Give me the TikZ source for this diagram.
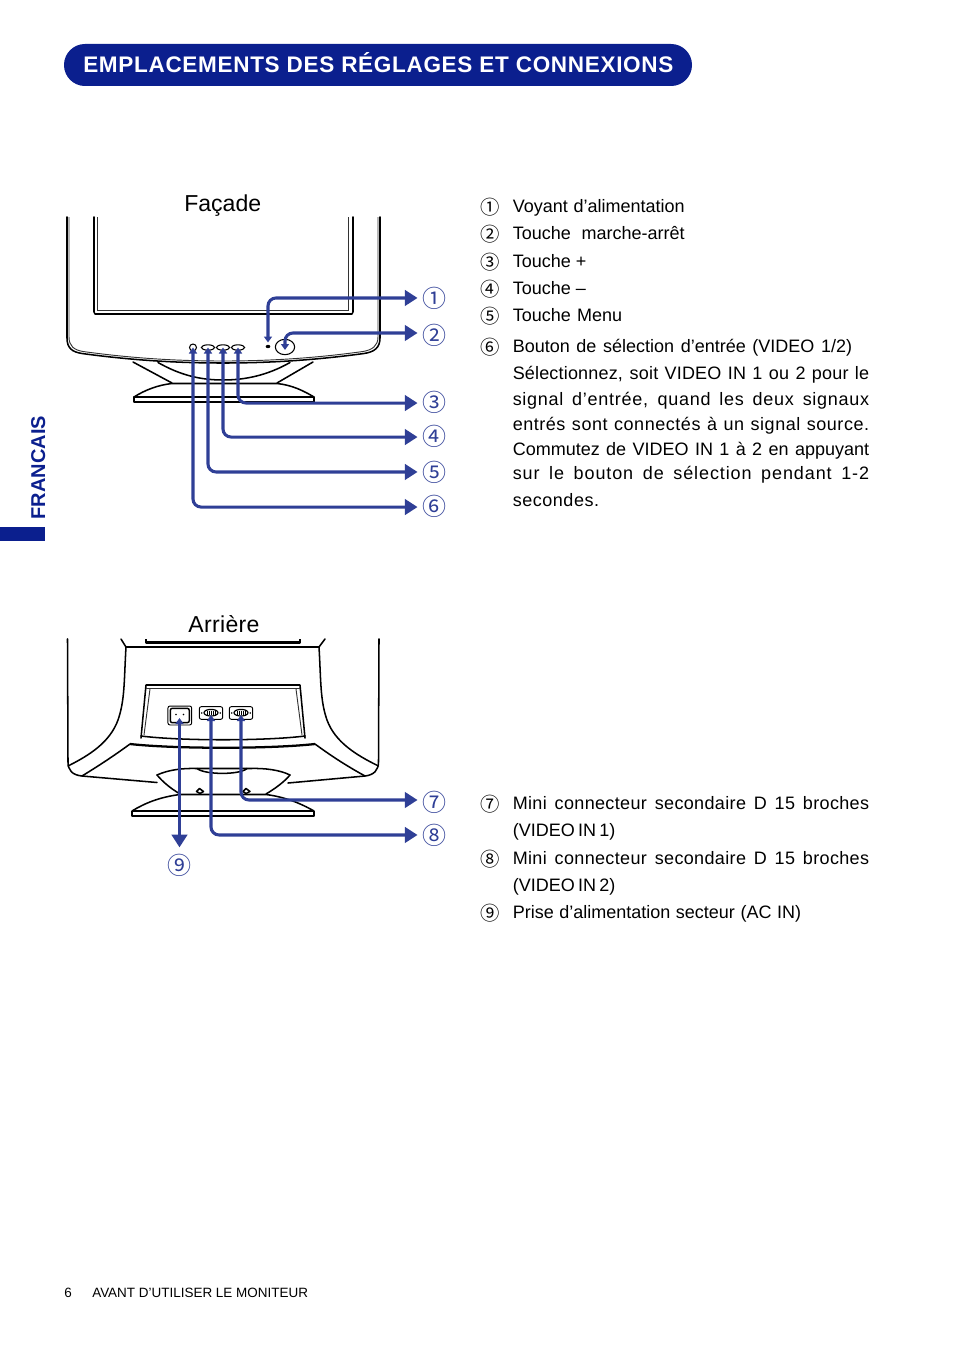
\documentclass[tikz,border=0pt]{standalone}
\usepackage{fontspec}
\usetikzlibrary{arrows.meta,shapes.geometric}
\setmainfont{Liberation Sans}
\newfontfamily\circfont{Noto Sans CJK JP}
\definecolor{wireblue}{HTML}{2F3F96}
\definecolor{navy}{HTML}{0B1F8E}
\newcommand{\wline}[3]{\makebox[#1pt][s]{\addfontfeature{LetterSpace=#2}#3}}
\tikzset{
  body/.style={anchor=base west,inner sep=0,font=\fontsize{13.5}{16}\selectfont,text=black},
  head/.style={anchor=base west,inner sep=0,font=\fontsize{17.3}{20}\selectfont,text=black},
  num/.style={inner sep=0,minimum size=16pt,text=wireblue,font=\circfont\fontsize{18}{18}\selectfont},
  knum/.style={inner sep=0,minimum size=14pt,text=black,font=\circfont\fontsize{14.5}{15}\selectfont},
  wire/.style={draw=wireblue,line width=2.3pt,rounded corners=6pt,{Triangle[length=4.5pt,width=6pt]}-{Triangle[length=9.5pt,width=11.5pt]}},
  shell/.style={draw=black,line width=1.15pt,line cap=round,line join=round},
  thick shell/.style={draw=black,line width=1.7pt,line join=round},
  thin shell/.style={draw=black!80,line width=.7pt},
  btn/.style={draw=black,line width=.8pt,inner sep=0,ellipse},
  port/.style={draw=black,line width=.7pt,inner sep=0,rectangle,rounded corners=1.5pt},
  pin/.style={draw=black,line width=.5pt},
}
\begin{document}
\begin{tikzpicture}[x=.75pt,y=-.75pt]
\useasboundingbox (0,0) rectangle (954,1352);

% ---------- header and margin
\node[fill=navy,rounded corners=15.7pt,minimum width=471pt,minimum height=31.5pt,inner sep=0] (pill) at (378,65) {};
\node[anchor=base west,inner sep=0,text=white,font=\fontsize{16.9}{20}\selectfont\bfseries] (title) at (83,72.5) {\addfontfeature{LetterSpace=3}EMPLACEMENTS DES RÉGLAGES ET CONNEXIONS};
\node[fill=navy,minimum width=33.75pt,minimum height=10.5pt,inner sep=0] (tab) at (22.5,534) {};
\node[rotate=90,anchor=base west,inner sep=0,text=navy,font=\fontsize{15}{18}\selectfont\bfseries] (lang) at (45,519.5) {FRANCAIS};

% ---------- front view
\node[head] (fa) at (184,211) {Façade};
% cabinet
\draw[shell] (67,217) -- (67,338) .. controls (67,348) and (72,352) .. (82,353.5)
  .. controls (130,360) and (175,363) .. (223,363)
  .. controls (271,363) and (316,360) .. (364,353.5)
  .. controls (374,352) and (380,348) .. (380,338) -- (380,217);
\draw[thin shell] (69,217) -- (69,337) .. controls (69,346) and (74,350) .. (83,351.5)
  .. controls (130,358) and (175,361) .. (223,361)
  .. controls (271,361) and (316,358) .. (363,351.5)
  .. controls (372,350) and (378,346) .. (378,337) -- (378,217);
% screen
\draw[shell] (94,217) -- (94,312) -- (95,314) -- (352,314) -- (353,312) -- (353,217);
\draw[thin shell] (97.5,217) -- (97.5,310) -- (348.5,310) -- (348.5,217);
% stand
\draw[shell] (133,362) -- (172,383);
\draw[shell] (313,362) -- (277,383);
\draw[shell] (158,362.5) .. controls (180,375) and (200,380) .. (223,380) .. controls (246,380) and (268,375) .. (290,362.5);
\draw[shell] (134,397) .. controls (145,390) and (158,385) .. (172,383.5) -- (277,383.5) .. controls (292,385) and (304,391) .. (314,397);
\draw[shell] (134,397) -- (134,402) -- (314,402) -- (314,397) -- cycle;
% controls
\node[btn,minimum width=5.2pt,minimum height=5.2pt] (b6) at (193,347.5) {};
\node[btn,minimum width=10pt,minimum height=4pt] (b5) at (208,347.5) {};
\node[btn,minimum width=10pt,minimum height=4pt] (b4) at (223,347.5) {};
\node[btn,minimum width=10pt,minimum height=4pt] (b3) at (238,347.5) {};
\node[fill=black,ellipse,inner sep=0,minimum width=3.5pt,minimum height=2.5pt] (b1) at (268,346.5) {};
\node[btn,minimum width=14.5pt,minimum height=11.5pt] (b2) at (285,347) {};
\coordinate (b1tip) at (268,342.5);
\coordinate (b2tip) at (285,350);

% front labels
\node[num] (n1) at (434.5,298.5) {①};
\node[num] (n2) at (434.5,335) {②};
\node[num] (n3) at (434.5,402.5) {③};
\node[num] (n4) at (434.5,436.5) {④};
\node[num] (n5) at (434.5,472.5) {⑤};
\node[num] (n6) at (434.5,506.5) {⑥};
\path[wire,shorten >=3.5pt] (b1tip) |- ([yshift=.4pt]n1.west);
\path[wire,shorten >=3.5pt] (b2tip) |- ([yshift=1.5pt]n2.west);
\path[wire,shorten >=3.5pt] (b3.center) |- ([yshift=-.4pt]n3.west);
\path[wire,shorten >=3.5pt] (b4.center) |- ([yshift=-.4pt]n4.west);
\path[wire,shorten >=3.5pt] (b5.center) |- ([yshift=.4pt]n5.west);
\path[wire,shorten >=3.5pt] (b6.center) |- ([yshift=-.4pt]n6.west);

% ---------- rear view
\node[head] (ar) at (188,632) {\addfontfeature{LetterSpace=1.5}Arrière};
% cabinet
\draw[shell] (67.5,639) -- (68,762) .. controls (68,770) and (72,775) .. (82,776) -- (157,782.5);
\draw[shell] (379,639) -- (378.5,762) .. controls (378.5,770) and (374,775) .. (365,776) -- (288,783);
\draw[shell] (121,639) -- (126,647) -- (319,647) -- (325,639);
\draw[thick shell] (146,639) -- (146,642.5) -- (300,642.5) -- (300,639);
\draw[shell] (126,647) .. controls (124,680) and (125,700) .. (118,720) .. controls (110,742) and (90,755) .. (68,766);
\draw[shell] (319,647) .. controls (321,680) and (320,700) .. (327,720) .. controls (335,742) and (356,755) .. (378.5,766);
\draw[thick shell] (130,744) .. controls (175,749) and (270,749) .. (315,744);
\draw[shell] (130,744) .. controls (115,755) and (100,765) .. (82,776);
\draw[shell] (315,744) .. controls (330,755) and (345,765) .. (365,776);
% recess
\draw[thick shell] (146,685) -- (300,685);
\draw[shell] (146,685) -- (141,738);
\draw[shell] (300,685) -- (305,738);
\draw[thin shell] (146,688.5) -- (300,688.5);
\draw[thin shell] (150,689) -- (144,735);
\draw[thin shell] (296,689) -- (302,735);
\draw[shell] (141,736) .. controls (180,741) and (266,741) .. (305,736);
% ports
\node[port,minimum width=17.8pt,minimum height=14.2pt] (acin) at (179.8,715.5) {};
\node[port,minimum width=14.2pt,minimum height=10.8pt,line width=1.1pt] (acinner) at (179.8,715.5) {};
\fill (176,714.5) circle (.9);
\fill (183.5,714.5) circle (.9);
\coordinate (acpin) at (179.5,718);
\node[port,minimum width=17.5pt,minimum height=9.5pt] (vga1) at (211,713) {};
\node[port,minimum width=17.5pt,minimum height=9.5pt] (vga2) at (241,713) {};
\node[btn,minimum width=10.5pt,minimum height=5pt,line width=.9pt] (v1s) at (211,712.7) {};
\node[btn,minimum width=10.5pt,minimum height=5pt,line width=.9pt] (v2s) at (241,712.7) {};
\foreach \cx in {211,241}{
  \foreach \dx in {-4,-2,0,2,4}{\draw[pin] (\cx+\dx,710.5) -- (\cx+\dx,715);}
  \fill (\cx-9.3,713) circle (.9);
  \fill (\cx+9.3,713) circle (.9);
}
\coordinate (v1pin) at (211,715);
\coordinate (v2pin) at (241,715);
% stand
\draw[shell] (157,775) .. controls (168,770) and (182,768) .. (197,768.5) -- (250,768.5) .. controls (265,768) and (280,770) .. (290,775);
\draw[shell] (197,768.5) .. controls (205,775) and (240,775) .. (247,768.5);
\draw[shell] (157,775) .. controls (163,782) and (170,788) .. (180,794);
\draw[shell] (290,775) .. controls (284,782) and (276,788) .. (266,794);
\draw[shell] (132,811) .. controls (145,803) and (160,797) .. (180,794.5) -- (266,794.5) .. controls (285,797) and (300,803) .. (314,811) -- cycle;
\draw[thick shell] (132,811) -- (132,816) -- (314,816) -- (314,811);
\draw[shell,fill=white] (196.5,791.5) -- (199.5,788.5) -- (203.5,791.5) -- (200,793.5) -- cycle;
\draw[shell,fill=white] (243,791.5) -- (246,788.5) -- (250,791.5) -- (246,793.5) -- cycle;

% rear labels
\node[num] (n7) at (434.5,802) {⑦};
\node[num] (n8) at (434.5,835.5) {⑧};
\node[num] (n9) at (179.5,865.5) {⑨};
\path[wire,shorten >=3.5pt] (v2pin) |- ([yshift=1.5pt]n7.west);
\path[wire,shorten >=3.5pt] (v1pin) |- ([yshift=.4pt]n8.west);
\path[wire,rounded corners=0pt,shorten >=5pt] (acpin) -- (n9.north);

% ---------- legend, upper
\node[knum] (k1) at (490,207) {①};
\node[knum] (k2) at (490,234.5) {②};
\node[knum] (k3) at (490,262) {③};
\node[knum] (k4) at (490,289) {④};
\node[knum] (k5) at (490,316) {⑤};
\node[knum] (k6) at (490,347) {⑥};
\node[body] (t1) at (512.5,212) {\wline{129}{0}{Voyant d’alimentation}};
\node[body] (t2) at (512.5,239) {\wline{129}{0}{Touche marche-arrêt}};
\node[body] (t3) at (512.5,267) {Touche +};
\node[body] (t4) at (512.5,294) {Touche –};
\node[body] (t5) at (512.5,321) {\wline{82}{0}{Touche Menu}};
\node[body] (t6) at (512.5,352) {\wline{254.5}{0}{Bouton de sélection d’entrée (VIDEO 1/2)}};
\node[body] (t6a) at (512.5,379) {\wline{267.3}{1}{Sélectionnez, soit VIDEO IN 1 ou 2 pour le}};
\node[body] (t6b) at (512.5,405) {\wline{267.3}{4}{signal d’entrée, quand les deux signaux}};
\node[body] (t6c) at (512.5,430) {\wline{267.3}{3}{entrés sont connectés à un signal source.}};
\node[body] (t6d) at (512.5,455) {\wline{267.3}{0}{Commutez de VIDEO IN 1 à 2 en appuyant}};
\node[body] (t6e) at (512.5,479) {\wline{267.3}{5}{sur le bouton de sélection pendant 1-2}};
\node[body] (t6f) at (512.5,506) {\wline{65}{3}{secondes.}};

% ---------- legend, lower
\node[knum] (k7) at (490,804) {⑦};
\node[knum] (k8) at (490,859) {⑧};
\node[knum] (k9) at (490,913) {⑨};
\node[body] (t7) at (512.5,809) {\wline{267.3}{2}{Mini connecteur secondaire D 15 broches}};
\node[body] (t7a) at (512.5,836) {\wline{77}{0}{(VIDEO IN 1)}};
\node[body] (t8) at (512.5,864) {\wline{267.3}{2}{Mini connecteur secondaire D 15 broches}};
\node[body] (t8a) at (512.5,891) {\wline{77}{0}{(VIDEO IN 2)}};
\node[body] (t9) at (512.5,918) {\wline{216.3}{0}{Prise d’alimentation secteur (AC IN)}};

% ---------- footer
\node[anchor=base west,inner sep=0,font=\fontsize{10.1}{12}\selectfont] (pg) at (64,1297) {6};
\node[anchor=base west,inner sep=0,font=\fontsize{10.1}{12}\selectfont] (foot) at (92,1297) {AVANT D’UTILISER LE MONITEUR};
\end{tikzpicture}
\end{document}
